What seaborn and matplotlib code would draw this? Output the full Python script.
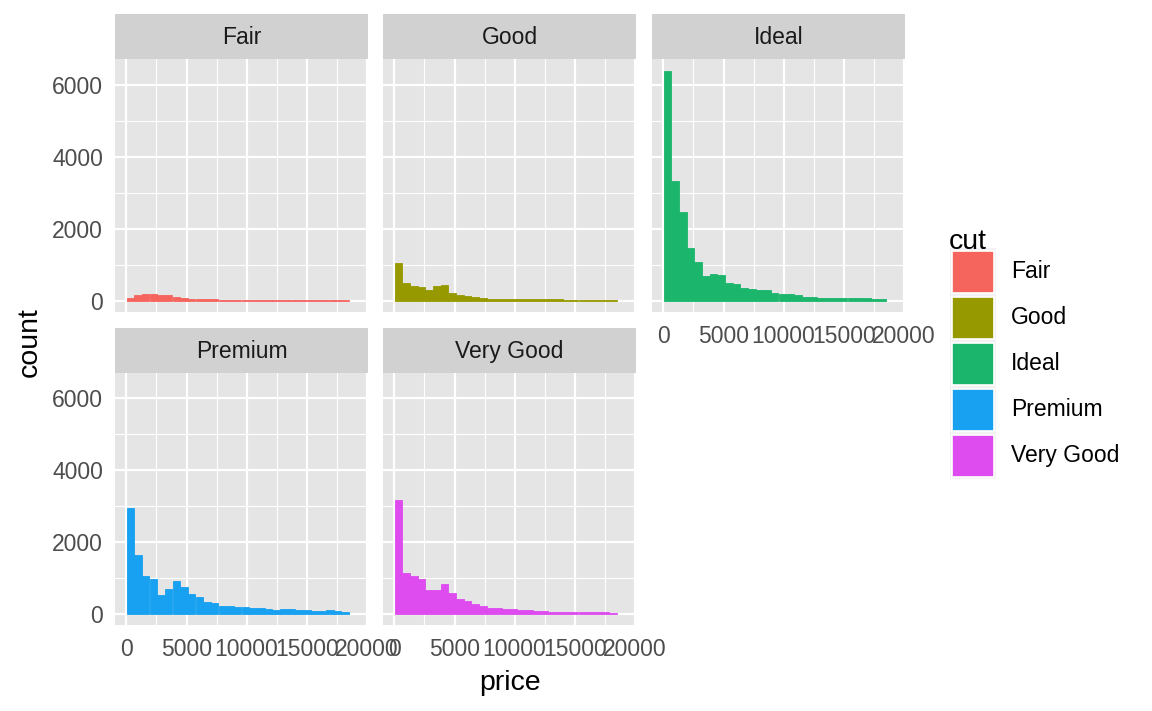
import numpy as np
import pandas as pd
import matplotlib
matplotlib.use("Agg")
import matplotlib.pyplot as plt
from matplotlib.patches import Rectangle
import seaborn as sns

# --- data (diamonds price, 30 bins per cut) ---
cuts = ["Fair", "Good", "Ideal", "Premium", "Very Good"]
cut_colors = ["#F5645D", "#969900", "#1BB66C", "#17A1F0", "#DE4CF0"]
price_min, price_max, n_bins = 326, 18823, 30

fair_counts = [60, 141, 170, 170, 141, 141, 85, 57, 30, 28, 28, 28, 15, 15, 15,
               15, 25, 12, 5, 25, 12, 12, 12, 12, 12, 4, 5, 5, 5, 0]
good_counts = [1047, 481, 396, 368, 283, 396, 424, 198, 141, 113, 85, 57, 35, 35, 30,
               30, 30, 30, 30, 30, 30, 30, 20, 20, 20, 25, 14, 14, 14, 0]
ideal_counts = [6389, 3306, 2445, 1472, 1083, 694, 750, 722, 500, 472, 361, 306, 278, 278, 222,
                194, 194, 139, 111, 111, 83, 83, 56, 56, 56, 56, 56, 28, 28, 0]
premium_counts = [2939, 1628, 1042, 958, 512, 679, 902, 735, 539, 456, 316, 288, 205, 205, 177,
                  177, 149, 149, 121, 93, 121, 121, 93, 93, 65, 65, 93, 65, 37, 0]
verygood_counts = [3162, 1125, 1042, 958, 651, 651, 818, 567, 400, 344, 260, 205, 149, 149, 121,
                   121, 93, 93, 65, 65, 37, 37, 37, 37, 37, 37, 37, 37, 10, 0]

x_ticks = [0, 5000, 10000, 15000, 20000]
y_ticks = [0, 2000, 4000, 6000]

all_counts = [fair_counts, good_counts, ideal_counts, premium_counts, verygood_counts]

# ggplot-style bin edges
width = (price_max - price_min) / (n_bins - 1)
edges = price_min - width / 2 + width * np.arange(n_bins + 1)
mids = (edges[:-1] + edges[1:]) / 2

rows = []
for cut, counts in zip(cuts, all_counts):
    for m, c in zip(mids, counts):
        rows.append({"cut": cut, "price": m, "n": c})
df = pd.DataFrame(rows)

sns.set_theme(style="white")
plt.rcParams["font.family"] = ["Liberation Sans", "DejaVu Sans"]

W, H = 1152, 711
fig = plt.figure(figsize=(W / 100, H / 100), dpi=100)


def frac(x0, y0, x1, y1):
    return [x0 / W, 1 - y1 / H, (x1 - x0) / W, (y1 - y0) / H]


panel_x = [(115, 368), (383, 636), (652, 905)]
panel_y = [(59, 312), (373, 625)]
strip_h = 45

xr = edges[-1] - edges[0]
xlim = (edges[0] - 0.05 * xr, edges[-1] + 0.05 * xr)
ymax = max(max(c) for c in all_counts)
ylim = (-0.05 * ymax, 1.05 * ymax)

for i, cut in enumerate(cuts):
    r, c = divmod(i, 3)
    x0, x1 = panel_x[c]
    y0, y1 = panel_y[r]
    ax = fig.add_axes(frac(x0, y0, x1, y1))
    sub = df[df["cut"] == cut]
    sns.histplot(data=sub, x="price", weights="n", binwidth=width,
                 binrange=(float(edges[0]), float(edges[-1])), color=cut_colors[i],
                 alpha=1, linewidth=0.6, edgecolor=cut_colors[i], ax=ax)
    # no outline on empty bins
    for p in ax.patches:
        if p.get_height() == 0:
            p.set_linewidth(0)
            p.set_visible(False)
    ax.set_facecolor("#E5E5E5")
    ax.set_xlim(xlim)
    ax.set_ylim(ylim)
    ax.set_xticks(x_ticks)
    ax.set_xticks([2500, 7500, 12500, 17500], minor=True)
    ax.set_yticks(y_ticks)
    ax.set_yticks([1000, 3000, 5000], minor=True)
    ax.grid(which="major", color="white", linewidth=1.6)
    ax.grid(which="minor", color="white", linewidth=0.8)
    ax.set_axisbelow(True)
    for s in ax.spines.values():
        s.set_visible(False)
    ax.set_xlabel("")
    ax.set_ylabel("")
    show_x = cut in ["Ideal", "Premium", "Very Good"]
    show_y = c == 0
    ax.tick_params(which="minor", length=0)
    ax.tick_params(axis="x", which="major", length=4.5 if show_x else 0, width=1.4,
                   color="#333333", labelcolor="#4D4D4D", labelsize=16.5, pad=5,
                   labelbottom=show_x)
    ax.tick_params(axis="y", which="major", length=4.5 if show_y else 0, width=1.4,
                   color="#333333", labelcolor="#4D4D4D", labelsize=16.5, pad=4,
                   labelleft=show_y)
    ax.set_xticklabels([str(t) for t in x_ticks])
    ax.set_yticklabels([str(t) for t in y_ticks])
    if not show_x:
        ax.set_xticklabels([])
    if not show_y:
        ax.set_yticklabels([])

    # strip
    sy0 = y0 - strip_h
    fig.patches.append(Rectangle((x0 / W, 1 - y0 / H), (x1 - x0) / W, strip_h / H,
                                 transform=fig.transFigure, facecolor="#D1D1D1",
                                 edgecolor="none", zorder=0))
    fig.text((x0 + x1) / 2 / W, 1 - (sy0 + strip_h / 2 + 1) / H, cut, ha="center",
             va="center", fontsize=16.5, color="#1A1A1A")

# axis titles
fig.text(30 / W, 1 - 342 / H, "count", rotation=90, ha="center", va="center",
         fontsize=20.5, color="black")
fig.text(510 / W, 1 - 683 / H, "price", ha="center", va="center",
         fontsize=20.5, color="black")

# legend
fig.text(949 / W, 1 - 242 / H, "cut", ha="left", va="center", fontsize=20.5, color="black")
fig.patches.append(Rectangle((950 / W, 1 - 479 / H), 46 / W, 231 / H,
                             transform=fig.transFigure, facecolor="#F2F2F2",
                             edgecolor="none"))
for k, (cut, col) in enumerate(zip(cuts, cut_colors)):
    ky0 = 250.7 + 46 * k
    fig.patches.append(Rectangle((952 / W, 1 - (ky0 + 42) / H), 42 / W, 42 / H,
                                 transform=fig.transFigure, facecolor=col,
                                 edgecolor="white", linewidth=1.2))
    fig.text(1011 / W, 1 - (ky0 + 21) / H, cut, ha="left", va="center",
             fontsize=16.5, color="black")

fig.savefig("out.png", dpi=100)
